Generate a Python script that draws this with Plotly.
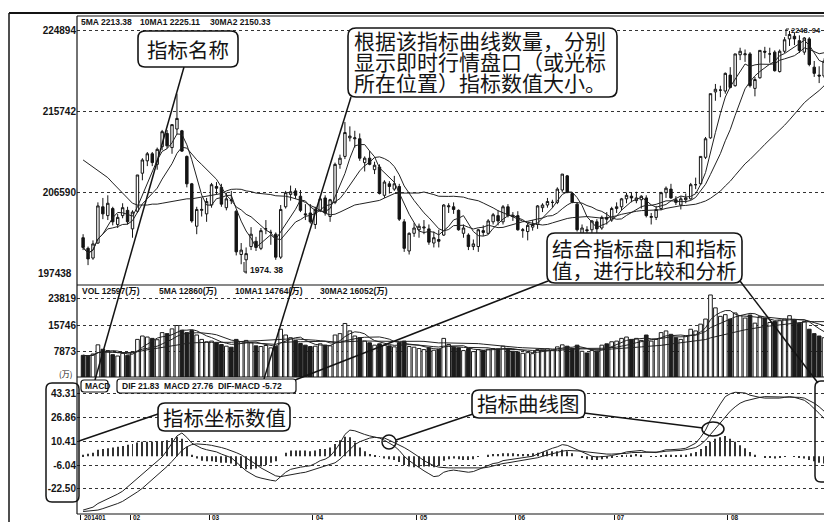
import numpy as np
import pandas as pd
import plotly.graph_objects as go

# ---------------- data ----------------
month_labels = ['201401', '02', '03', '04', '05', '06', '07', '08']
month_start = [0, 10, 26, 47, 68, 88, 108, 131]

opens = [2015, 2003, 1992, 2009, 2050, 2040, 2048, 2030, 2040, 2046,
         2025, 2045, 2088, 2102, 2110, 2098, 2118, 2133, 2117, 2138,
         2136, 2107, 2076, 2028, 2046, 2042, 2052, 2073, 2072, 2049,
         2058, 2045, 1996, 1990, 2005, 2011, 2003, 2025, 2021, 2019,
         1993, 2050, 2064, 2068, 2062, 2042, 2043, 2030, 2046, 2060,
         2039, 2055, 2098, 2107, 2128, 2127, 2127, 2100, 2105, 2092,
         2095, 2063, 2076, 2070, 2073, 2033, 2000, 2020, 2024, 2026,
         2025, 2009, 2013, 2018, 2050, 2050, 2046, 2020, 2018, 2005,
         2005, 2023, 2020, 2033, 2040, 2033, 2050, 2040, 2040, 2023,
         2022, 2027, 2030, 2049, 2052, 2055, 2055, 2069, 2085, 2065,
         2053, 2020, 2024, 2024, 2033, 2026, 2038, 2035, 2048, 2050,
         2059, 2062, 2057, 2058, 2060, 2038, 2038, 2048, 2066, 2070,
         2058, 2052, 2058, 2059, 2075, 2076, 2106, 2128, 2180, 2182,
         2181, 2199, 2187, 2222, 2222, 2223, 2184, 2196, 2226, 2223,
         2225, 2203, 2226, 2240, 2243, 2238, 2225, 2240, 2208, 2199,
         2198, 2222]
highs = [2019, 2005, 2012, 2055, 2060, 2063, 2050, 2042, 2054, 2050,
         2046, 2086, 2105, 2112, 2112, 2117, 2137, 2137, 2143, 2178,
         2137, 2108, 2077, 2050, 2060, 2060, 2077, 2078, 2076, 2066,
         2068, 2046, 2009, 2004, 2027, 2016, 2026, 2035, 2024, 2021,
         2052, 2068, 2074, 2071, 2069, 2053, 2053, 2050, 2062, 2063,
         2059, 2100, 2109, 2146, 2141, 2136, 2133, 2107, 2113, 2101,
         2098, 2080, 2079, 2085, 2076, 2036, 2021, 2032, 2031, 2035,
         2030, 2022, 2024, 2053, 2054, 2055, 2047, 2030, 2020, 2013,
         2025, 2029, 2036, 2043, 2046, 2052, 2053, 2044, 2045, 2026,
         2032, 2035, 2052, 2054, 2060, 2058, 2072, 2087, 2086, 2066,
         2055, 2030, 2028, 2035, 2036, 2040, 2044, 2050, 2055, 2060,
         2066, 2066, 2067, 2063, 2063, 2043, 2051, 2067, 2073, 2076,
         2062, 2062, 2065, 2077, 2083, 2107, 2129, 2178, 2189, 2187,
         2202, 2208, 2223, 2230, 2228, 2225, 2197, 2227, 2231, 2230,
         2227, 2228, 2242, 2248.94, 2247, 2244, 2242, 2242, 2215, 2209,
         2218, 2242]
lows = [2001, 1984, 1990, 2008, 2036, 2035, 2029, 2026, 2037, 2030,
        2015, 2043, 2080, 2096, 2096, 2092, 2114, 2116, 2110, 2132,
        2112, 2072, 2032, 2019, 2039, 2033, 2049, 2064, 2050, 2046,
        2053, 1995, 1985, 1974.38, 2001, 2000, 2001, 2019, 2007, 1990,
        1991, 2048, 2057, 2059, 2044, 2035, 2031, 2025, 2044, 2040,
        2033, 2053, 2093, 2104, 2124, 2117, 2102, 2090, 2097, 2087,
        2064, 2060, 2065, 2068, 2034, 1999, 1996, 2016, 2015, 2019,
        2007, 2004, 2004, 2017, 2043, 2042, 2023, 2015, 2001, 2001,
        1999, 2017, 2019, 2030, 2029, 2030, 2038, 2034, 2023, 2015,
        2012, 2023, 2025, 2044, 2049, 2049, 2053, 2066, 2066, 2054,
        2022, 2010, 2014, 2020, 2020, 2024, 2030, 2033, 2043, 2046,
        2054, 2055, 2054, 2048, 2038, 2030, 2035, 2046, 2060, 2059,
        2052, 2047, 2054, 2058, 2070, 2075, 2104, 2127, 2170, 2174,
        2178, 2184, 2186, 2216, 2214, 2185, 2175, 2195, 2218, 2213,
        2203, 2202, 2224, 2232, 2233, 2224, 2222, 2209, 2197, 2190,
        2196, 2220]
closes = [2004, 1991, 2008, 2051, 2042, 2054, 2033, 2038, 2049, 2033,
          2044, 2086, 2103, 2110, 2100, 2115, 2135, 2119, 2143, 2150,
          2113, 2076, 2034, 2047, 2047, 2056, 2075, 2071, 2053, 2059,
          2057, 1999, 2001, 1997, 2019, 2004, 2023, 2025, 2021, 1993,
          2047, 2066, 2067, 2063, 2046, 2041, 2033, 2047, 2059, 2043,
          2058, 2098, 2105, 2134, 2130, 2128, 2105, 2105, 2098, 2097,
          2065, 2078, 2073, 2076, 2036, 2003, 2020, 2026, 2028, 2027,
          2010, 2015, 2011, 2052, 2051, 2047, 2024, 2026, 2005, 2008,
          2024, 2021, 2034, 2041, 2034, 2050, 2040, 2039, 2024, 2024,
          2029, 2030, 2051, 2052, 2056, 2055, 2070, 2087, 2066, 2055,
          2024, 2026, 2023, 2034, 2025, 2038, 2036, 2048, 2050, 2059,
          2063, 2060, 2060, 2062, 2040, 2039, 2047, 2066, 2071, 2060,
          2055, 2059, 2060, 2075, 2075, 2107, 2127, 2178, 2183, 2182,
          2201, 2185, 2223, 2226, 2223, 2187, 2194, 2227, 2225, 2223,
          2204, 2226, 2239, 2245, 2240, 2227, 2241, 2211, 2201, 2198,
          2215, 2238]
volume = [6800, 6500, 7200, 9900, 8600, 8200, 7000, 6600, 7400, 6800,
          7800, 11500, 12500, 12200, 11800, 11400, 13500, 13200, 14600, 15600,
          14200, 13500, 14100, 12800, 11500, 10800, 11000, 10500, 10000, 9500,
          9200, 11500, 10800, 11200, 10500, 9600, 9400, 9700, 9000, 9500,
          14500, 12800, 12000, 11200, 10300, 9800, 9400, 9500, 10200, 9800,
          9600, 12800, 13200, 16200, 14000, 12500, 12000, 11000, 10500, 9800,
          10200, 9800, 9600, 9300, 10500, 11000, 9400, 9200, 8800, 8500,
          9000, 8300, 8600, 11800, 10000, 9200, 9000, 8200, 8800, 7900,
          8500, 8200, 8600, 8800, 8700, 9500, 8800, 8000, 7800, 7400,
          7600, 7300, 8500, 8600, 8700, 8400, 9300, 9900, 9500, 8800,
          9800, 8000, 7500, 8200, 8000, 9800, 10200, 10800, 11000, 11800,
          12200, 11500, 11800, 11200, 12800, 11000, 11500, 13500, 14000, 13000,
          12000, 11500, 12500, 14500, 14000, 16000, 17500, 24600, 20800, 18300,
          18800, 17500, 19300, 18500, 17800, 18700, 16300, 18200, 17800, 16500,
          16800, 17000, 17500, 18500, 17200, 16300, 16800, 14500, 13200, 12500,
          12000, 12597]
# 30-day average at the left edge (history before the window)
ma30_head = [2103, 2099, 2095, 2091, 2087, 2083, 2077, 2071, 2065, 2059,
             2054, 2052, 2052, 2052, 2053, 2053, 2054, 2055, 2056, 2057,
             2058, 2059, 2059, 2060, 2061, 2062, 2063, 2064, 2065]
dif = [-37, -36, -35, -32.5, -31, -29.5, -28, -26, -24, -21,
       -18.5, -15, -12, -9, -6.5, -3.5, -0.5, 4, 9, 14,
       16, 13, 9, 7, 5.5, 4.5, 4, 3, 1.5, 0.5,
       -1, -4, -7, -10, -12, -14, -15, -16, -16.5, -17,
       -14, -11, -9, -8, -7.5, -7, -6.5, -5, -3, -2,
       0, 4, 9, 15, 18, 17.5, 16, 15, 14, 13.5,
       12.5, 11, 9, 7, 4, 0, -3, -5.5, -8, -10,
       -12, -14, -13.5, -11, -10, -9.5, -10, -10.5, -11, -10.5,
       -9, -8, -6.5, -5, -4.5, -3, -2.5, -2, -2, -1.5,
       -1, 0, 1.5, 3, 4.5, 5.5, 6.5, 8, 7.5, 6,
       4, 2.5, 1, 0, -0.5, -0.5, 0, 0.5, 1, 2,
       3, 3.5, 4, 4, 3, 2.5, 2.5, 3.5, 4.5, 4.5,
       4.5, 5, 5.5, 7, 9, 13, 18, 25, 31, 36,
       41, 43, 44, 44, 43.5, 42, 41, 40.5, 40, 40,
       39.5, 40, 40.5, 41, 40.5, 39.5, 38.5, 36, 33, 29.5,
       26, 22]
dea = [-38, -37.8, -37.5, -37, -36, -35, -34, -32.5, -31, -29,
       -27, -24.5, -22, -19, -16.5, -13.5, -10.5, -7, -3.5, 0.5,
       4, 6.5, 8, 8.5, 8.5, 8, 7.5, 7, 6, 5,
       4, 2.5, 1, -1, -3, -5.5, -8, -10, -12, -13.5,
       -14, -13.5, -13, -12, -11.5, -11, -10, -9, -8, -7,
       -6, -4.5, -2, 1.5, 5, 8, 10, 11.5, 12.5, 13,
       13, 12.5, 11, 9.5, 8, 6, 4, 2, -0.5, -3,
       -5, -6.5, -7.5, -8, -8, -8, -8, -8, -8.5, -8.5,
       -8.5, -8, -7.5, -6.5, -6, -5, -4.5, -4, -3.5, -3,
       -2.5, -2, -1, 0, 1, 2, 3, 3.5, 4, 4,
       4, 3.5, 3, 2.5, 2, 1.5, 1.5, 1.5, 1.5, 1.5,
       2, 2.5, 2.5, 3, 3, 3, 3, 3, 3.5, 3.5,
       4, 4, 4.5, 5, 6, 8, 11, 15, 19, 23,
       27, 31, 34, 36.5, 38, 39, 40, 40.5, 41, 41,
       41, 41, 41, 41, 41, 40.5, 40, 38.5, 36.5, 34,
       31, 28]

price_tick_vals = [2248.94, 2157.42, 2065.90]
price_tick_text = ['224894', '215742', '206590']
price_bottom_val = 1974.38
price_bottom_text = '197438'
vol_tick_vals = [7873, 15746, 23619]
vol_tick_text = ['7873', '15746', '23819']
macd_tick_vals = [43.31, 26.86, 10.41, -6.04, -22.50]
macd_tick_text = ['43.31', '26.86', '10.41', '-6.04', '-22.50']

price_header = ['5MA 2213.38', '10MA1 2225.11', '30MA2 2150.33']
vol_header = ['VOL 12597(万)', '5MA 12860(万)', '10MA1 14764(万)', '30MA2 16052(万)']
macd_name = 'MACD'
macd_header = 'DIF 21.83  MACD 27.76  DIF-MACD -5.72'
vol_unit = '(万)'
high_label = '2248. 94'
low_label = '1974. 38'

note_name = '指标名称'
note_values = ['根据该指标曲线数量，分别', '显示即时行情盘口（或光标', '所在位置）指标数值大小。']
note_compare = ['结合指标盘口和指标', '值，进行比较和分析']
note_axis = '指标坐标数值'
note_curve = '指标曲线图'

# ---------------- derived series ----------------
idx = list(range(len(closes)))
c = pd.Series(closes, dtype=float)
ma5 = c.rolling(5, min_periods=1).mean()
ma10 = c.rolling(10, min_periods=1).mean()
ma30 = c.rolling(30, min_periods=1).mean()
ma30.iloc[:len(ma30_head)] = ma30_head
v = pd.Series(volume, dtype=float)
vma5 = v.rolling(5, min_periods=1).mean()
vma10 = v.rolling(10, min_periods=1).mean()
vma30 = v.rolling(30, min_periods=1).mean()
hist = (np.array(dif) - np.array(dea)).tolist()
up = [cl >= op for op, cl in zip(opens, closes)]

# ---------------- page geometry ----------------
# The page body adds an 8px offset, so margins are reduced by 8 on the left/top.
W, H = 832, 522
PAGE_OFF = 8
PLOT_L, PLOT_R, PLOT_T, PLOT_B = 77, 832, 16, 514      # plot area in window pixels
ML = PLOT_L - PAGE_OFF
MT = PLOT_T - PAGE_OFF
MR = W + PAGE_OFF - PLOT_R
MB = H + PAGE_OFF - PLOT_B
PW, PH = PLOT_R - PLOT_L, PLOT_B - PLOT_T


def px(x):
    return (x - PLOT_L) / PW


def py(y):
    return (PLOT_B - y) / PH


INK = '#141414'
NARROW = 'Liberation Sans Narrow, Liberation Sans, Noto Sans CJK SC, sans-serif'
CJK = 'Noto Sans CJK SC, Noto Sans, sans-serif'
small_font = dict(family=NARROW, size=8.5, color=INK, weight='bold')
tick_font = dict(family=NARROW, size=10, color=INK, weight='bold')

fig = go.Figure()

# price panel
fig.add_trace(go.Candlestick(
    x=idx, open=opens, high=highs, low=lows, close=closes,
    increasing=dict(line=dict(color=INK, width=1), fillcolor='white'),
    decreasing=dict(line=dict(color=INK, width=1), fillcolor=INK),
    whiskerwidth=0, xaxis='x', yaxis='y', hoverinfo='skip', showlegend=False))
for s in (ma5, ma10, ma30):
    fig.add_trace(go.Scatter(x=idx, y=s, mode='lines', line=dict(color='#222', width=1),
                             xaxis='x', yaxis='y', hoverinfo='skip', showlegend=False))

# volume panel
fig.add_trace(go.Bar(
    x=idx, y=volume, width=0.74,
    marker=dict(color=['white' if u else '#1c1c1c' for u in up], line=dict(color='#1c1c1c', width=1)),
    xaxis='x', yaxis='y2', hoverinfo='skip', showlegend=False))
for s in (vma5, vma10, vma30):
    fig.add_trace(go.Scatter(x=idx, y=s, mode='lines', line=dict(color='#222', width=1),
                             xaxis='x', yaxis='y2', hoverinfo='skip', showlegend=False))

# MACD panel
fig.add_trace(go.Bar(x=idx, y=hist, width=0.2, marker=dict(color='#333', line=dict(width=0)),
                     xaxis='x', yaxis='y3', hoverinfo='skip', showlegend=False))
for s in (dif, dea):
    fig.add_trace(go.Scatter(x=idx, y=s, mode='lines', line=dict(color='#222', width=1),
                             xaxis='x', yaxis='y3', hoverinfo='skip', showlegend=False))

ygrid = dict(showgrid=True, gridcolor='#333', griddash='dot', gridwidth=1, zeroline=False,
             ticks='', showline=False, tickfont=tick_font, fixedrange=True, anchor='x')

fig.update_layout(
    width=W, height=H, margin=dict(l=ML, r=MR, t=MT, b=MB),
    paper_bgcolor='white', plot_bgcolor='white', showlegend=False,
    barmode='overlay', hovermode=False,
    xaxis=dict(range=[-1.235, 151.6], anchor='y3', showgrid=False, zeroline=False,
               showticklabels=False, ticks='outside', ticklen=5, tickcolor=INK, tickwidth=1,
               tickvals=[m - 0.5 for m in month_start], showline=False,
               rangeslider=dict(visible=False), fixedrange=True),
    yaxis=dict(domain=[py(285), 1], range=[1961.5, 2265.9],
               tickvals=price_tick_vals, ticktext=price_tick_text, **ygrid),
    yaxis2=dict(domain=[py(377), py(285)], range=[413, 27544],
                tickvals=vol_tick_vals, ticktext=vol_tick_text, **ygrid),
    yaxis3=dict(domain=[0, py(377)], range=[-39.7, 54.5],
                tickvals=macd_tick_vals, ticktext=macd_tick_text, **ygrid),
)

shapes = []


def line(x0, y0, x1, y1, w=1.5):
    shapes.append(dict(type='line', xref='paper', yref='paper', x0=px(x0), y0=py(y0),
                       x1=px(x1), y1=py(y1), line=dict(color=INK, width=w), layer='above'))


def rrect(x0, y0, x1, y1, r=7, w=1.6, fill='white'):
    p = (f"M {px(x0 + r)},{py(y0)} L {px(x1 - r)},{py(y0)} Q {px(x1)},{py(y0)} {px(x1)},{py(y0 + r)} "
         f"L {px(x1)},{py(y1 - r)} Q {px(x1)},{py(y1)} {px(x1 - r)},{py(y1)} "
         f"L {px(x0 + r)},{py(y1)} Q {px(x0)},{py(y1)} {px(x0)},{py(y1 - r)} "
         f"L {px(x0)},{py(y0 + r)} Q {px(x0)},{py(y0)} {px(x0 + r)},{py(y0)} Z")
    shapes.append(dict(type='path', path=p, xref='paper', yref='paper',
                       line=dict(color=INK, width=w), fillcolor=fill, layer='above'))


def oval(x0, y0, x1, y1, w=1.5):
    shapes.append(dict(type='circle', xref='paper', yref='paper', x0=px(x0), y0=py(y1),
                       x1=px(x1), y1=py(y0), line=dict(color=INK, width=w), layer='above'))


# frames
line(9, 13, 836, 13, 2)
line(9, 13, 9, 524, 1.5)
line(77, 16, 836, 16, 1.2)
line(77, 16, 77, 514, 1.2)
line(77, 285, 836, 285, 1.2)
line(77, 377, 836, 377, 1.2)
line(77, 514, 836, 514, 1.2)

# leader lines
line(184, 67, 95, 380)
line(351, 97, 264, 379)
line(548, 281, 295, 380)
line(740, 281, 818, 383)
line(158, 414, 79, 441)
line(473, 414, 396, 440)
line(584, 413, 703, 428)
# brackets for high / low marks
line(786, 36, 786, 29, 1)
line(786, 29, 789, 29, 1)
line(244, 262, 244, 272, 1)
line(244, 272, 247, 272, 1)

# boxes
rrect(138, 31, 238, 67)
rrect(348, 28, 617, 97, r=8)
rrect(547, 233, 742, 283, r=8)
rrect(158, 403, 290, 431)
rrect(472, 390, 585, 418)
rrect(81, 380, 108, 392, r=3, w=1.2)
rrect(117, 379, 296, 393, r=3, w=1.2)
rrect(46, 383, 79, 502, r=6, w=1.5, fill='rgba(0,0,0,0)')
rrect(815, 381, 845, 482, r=6, w=1.5, fill='rgba(0,0,0,0)')
oval(382, 435, 396, 449)
oval(702, 422, 724, 436)

fig.update_layout(shapes=shapes)

ann = []


def text(x, y, s, font, xanchor='left'):
    ann.append(dict(xref='paper', yref='paper', x=px(x), y=py(y), text=s, showarrow=False,
                    xanchor=xanchor, yanchor='middle', font=font))


for s, x in zip(price_header, [79, 138, 208]):
    text(x, 22, s, small_font)
for s, x in zip(vol_header, [80, 157, 233, 318]):
    text(x, 291, s, small_font)
text(83, 386, macd_name, small_font)
text(120, 386, macd_header, small_font)
text(74, 373, vol_unit, dict(family=CJK, size=8, color=INK), xanchor='right')
text(789, 30, high_label, dict(family=NARROW, size=7.5, color=INK, weight='bold'))
text(248, 270, low_label, small_font)
ann.append(dict(xref='paper', yref='y', x=-0.004, y=price_bottom_val, text=price_bottom_text,
                showarrow=False, xanchor='right', yanchor='middle', font=tick_font))
for lab, m in zip(month_labels, month_start):
    ann.append(dict(xref='x', yref='paper', x=m - 0.5 + 0.4, y=py(517), text=lab, showarrow=False,
                    xanchor='left', yanchor='middle', borderpad=0,
                    font=dict(family=NARROW, size=6.5, color=INK, weight='bold')))

big = dict(family=CJK, size=21, color=INK)
text(188, 49, note_name, dict(family=CJK, size=20.5, color=INK), xanchor='center')
for s, y in zip(note_values, [40, 61, 82]):
    text(352, y, s, big)
for s, y in zip(note_compare, [248, 270]):
    text(550, y, s, dict(family=CJK, size=20.5, color=INK))
text(224, 417, note_axis, dict(family=CJK, size=20.5, color=INK), xanchor='center')
text(528, 403, note_curve, dict(family=CJK, size=20.5, color=INK), xanchor='center')

fig.update_layout(annotations=ann)
fig.write_html('out.html')
